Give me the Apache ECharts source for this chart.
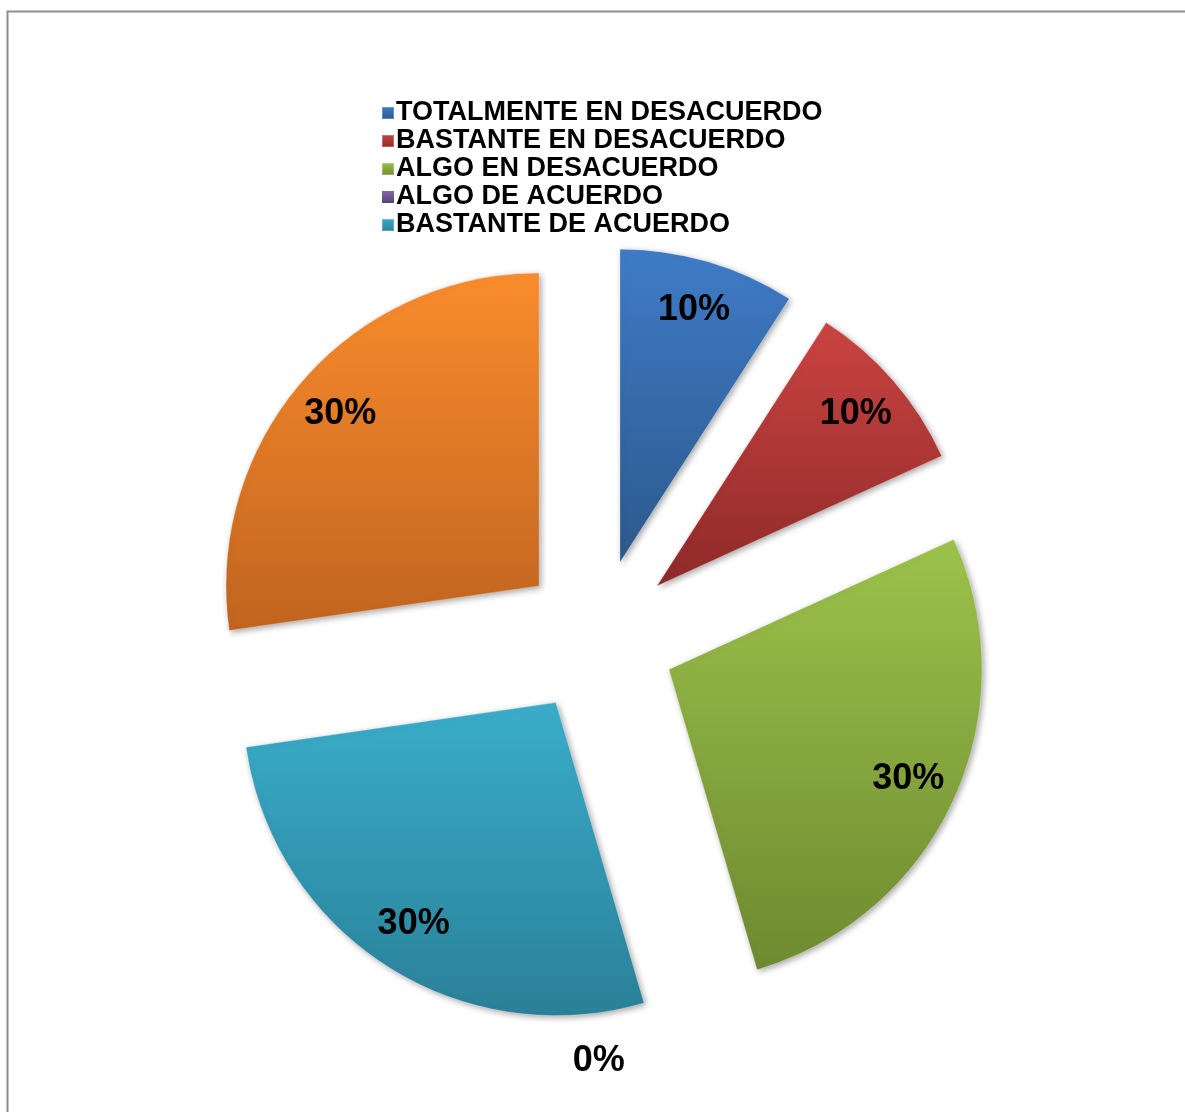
<!DOCTYPE html>
<html>
<head>
<meta charset="utf-8">
<title>Grado de acuerdo</title>
<script src="https://cdn.jsdelivr.net/npm/echarts@6/dist/echarts.min.js"></script>
<style>
  html, body { margin: 0; padding: 0; background: #ffffff; }
  #chart { width: 1185px; height: 1112px; }
</style>
</head>
<body>
<div id="chart"></div>
<script>
// Categories and their values (percent)
const categories = [
  'TOTALMENTE EN DESACUERDO',
  'BASTANTE EN DESACUERDO',
  'ALGO EN DESACUERDO',
  'ALGO DE ACUERDO',
  'BASTANTE DE ACUERDO',
  'TOTALMENTE DE ACUERDO'
];
const values = [10, 10, 30, 0, 30, 30];
// Entries listed in the legend
const legendItems = categories.slice(0, 5);

// Top / bottom colours of each slice gradient
const topColors = ['#3f7bc7', '#cb4442', '#9dc24b', '#8466a8', '#3aadca', '#fa8c2d'];
const bottomColors = ['#2c598c', '#8e2a28', '#6e8a30', '#5a4478', '#2a8098', '#c1641f'];

function grad(i) {
  return new echarts.graphic.LinearGradient(0, 0, 0, 1, [
    { offset: 0, color: topColors[i] },
    { offset: 1, color: bottomColors[i] }
  ]);
}

const CENTER = [598, 637];
const RADIUS = 313;
const EXPLODE = 78;
const LABEL_RADIUS = 520;           // outer radius of the label-carrying twin pie
const FONT = '"Liberation Sans", Arial, sans-serif';

const total = values.reduce((a, b) => a + b, 0);

// Default (inside) label centre of slice i, in page coordinates
function defaultLabelPos(i) {
  const before = values.slice(0, i).reduce((a, b) => a + b, 0);
  const mid = (before + values[i] / 2) / total * 2 * Math.PI; // clockwise from 12 o'clock
  const d = LABEL_RADIUS / 2 + EXPLODE;
  return [CENTER[0] + d * Math.sin(mid), CENTER[1] - d * Math.cos(mid)];
}

const sliceData = categories.map((name, i) => {
  const empty = values[i] === 0;
  return {
    name: name,
    value: values[i],
    selected: true,
    itemStyle: empty
      ? { color: grad(i), borderWidth: 0, shadowBlur: 0, shadowOffsetX: 0, shadowOffsetY: 0, shadowColor: 'rgba(0,0,0,0)' }
      : { color: grad(i) }
  };
});

const labelData = categories.map((name, i) => ({
  name: name,
  value: values[i],
  selected: true
}));

const chart = echarts.init(document.getElementById('chart'), null, { renderer: 'canvas' });

chart.setOption({
  backgroundColor: '#ffffff',
  animation: false,
  graphic: [{
    type: 'rect',
    left: 5,
    top: 9,
    shape: { width: 1200, height: 1120 },
    style: { fill: 'none', stroke: '#8e8e8e', lineWidth: 2 },
    silent: true
  }],
  legend: {
    orient: 'vertical',
    left: 376,
    top: 94,
    data: legendItems,
    icon: 'rect',
    itemWidth: 12,
    itemHeight: 12,
    itemGap: 0,
    selectedMode: false,
    textStyle: {
      fontFamily: FONT,
      fontSize: 27,
      fontWeight: 'bold',
      color: '#000000',
      lineHeight: 28,
      padding: [0, 0, 0, -3]
    }
  },
  series: [
    {
      type: 'pie',
      name: 'slices',
      center: CENTER,
      radius: [0, RADIUS],
      startAngle: 90,
      clockwise: true,
      selectedMode: 'multiple',
      selectedOffset: EXPLODE,
      avoidLabelOverlap: false,
      silent: true,
      itemStyle: {
        borderColor: 'rgba(255,255,255,0.25)',
        borderWidth: 1,
        shadowColor: 'rgba(0,0,0,0.35)',
        shadowBlur: 6,
        shadowOffsetX: 2,
        shadowOffsetY: 2
      },
      label: { show: false },
      labelLine: { show: false },
      data: sliceData
    },
    {
      // transparent twin series that carries the percentage labels
      type: 'pie',
      name: 'labels',
      center: CENTER,
      radius: [0, LABEL_RADIUS],
      startAngle: 90,
      clockwise: true,
      selectedMode: 'multiple',
      selectedOffset: EXPLODE,
      avoidLabelOverlap: false,
      silent: true,
      itemStyle: { color: 'rgba(0,0,0,0)' },
      label: {
        show: true,
        position: 'inside',
        formatter: p => p.value + '%',
        fontFamily: FONT,
        fontSize: 36,
        fontWeight: 'bold',
        color: '#000000'
      },
      labelLine: { show: false },
      labelLayout: function (params) {
        // empty categories get their label just below the pie
        const i = params.dataIndex;
        if (values[i] === 0) {
          const p = defaultLabelPos(i);
          return {
            dx: CENTER[0] - p[0],
            dy: CENTER[1] + RADIUS + EXPLODE + 30 - p[1]
          };
        }
        return {};
      },
      data: labelData
    }
  ]
});
</script>
</body>
</html>
